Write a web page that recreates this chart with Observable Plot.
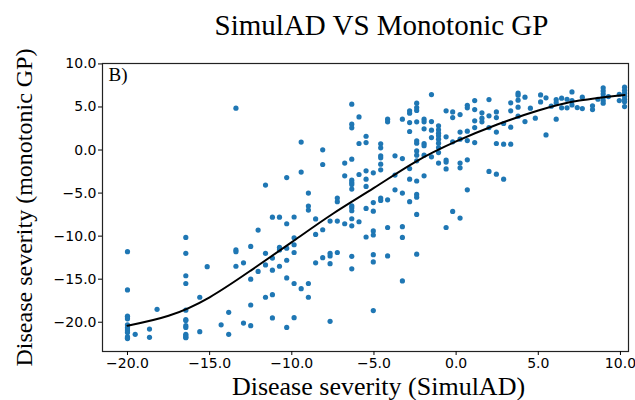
<!DOCTYPE html>
<html><head><meta charset="utf-8">
<script src="https://cdn.jsdelivr.net/npm/d3@7"></script>
<script src="https://cdn.jsdelivr.net/npm/@observablehq/plot@0.6"></script>
<style>body{margin:0;background:#fff}</style>
</head><body><div id="chart"></div>
<script>
// SimulAD severity columns and the monotonic-GP severities observed at each column
const simulADColumns = [-20,-19.53,-18.66,-18.2,-16.45,-15.6,-15.15,-14.3,-13.84,-13.4,-12.94,-12.5,-12.05,-11.6,-11.18,-10.75,-10.31,-9.86,-9.43,-8.99,-8.55,-8.12,-7.67,-7.23,-6.78,-6.35,-5.91,-5.48,-5.04,-4.59,-4.17,-3.72,-3.27,-2.83,-2.4,-1.95,-1.5,-1.07,-0.61,-0.21,0.24,0.68,1.13,1.57,2.0,2.45,2.89,3.32,3.77,4.19,4.52,4.82,5.14,5.47,5.79,6.09,6.42,6.75,7.05,7.37,7.68,8.3,8.63,8.95,9.27,9.93,10.25];
const monotonicGPByColumn = [
  [-11.8,-16.25,-19.3,-19.4,-19.6,-20.3,-20.6,-20.8,-21.0,-21.2,-21.7,-21.8,-21.9],
  [-21.4],
  [-20.8,-21.75],
  [-18.5],
  [-10.15,-12.0,-14.6,-15.5,-18.6,-19.7,-19.8,-20.4,-20.6,-21.4,-21.55,-21.75,-21.8],
  [-17.1,-21.1],
  [-13.55],
  [-20.3],
  [-18.85,-21.4],
  [4.86,-11.6,-11.8,-13.5],
  [-13.1,-20.1],
  [-11.2,-15.0,-18.0,-20.4],
  [-9.3,-14.1],
  [-4.07,-12.0,-13.35,-17.1],
  [-7.8,-12.55,-13.95,-16.8,-19.5],
  [-7.8,-11.3,-11.6,-13.5],
  [-3.2,-8.56,-11.4,-12.8,-14.86,-20.6],
  [-7.78,-10.2,-11.0,-11.9,-15.5,-19.47],
  [0.92,-2.56,-16.1],
  [-5.0,-6.5,-6.97,-15.5,-17.1],
  [-8.0,-9.8,-13.1],
  [0.02,-1.68,-9.26,-12.5],
  [-8.25,-12.0,-12.3,-13.2,-19.9],
  [-5.58,-6.0,-8.25,-11.9],
  [-1.52,-3.0,-8.56],
  [5.32,3.0,2.58,-1.06,-3.5,-3.77,-4.0,-4.54,-6.47,-6.7,-7.05,-7.98,-8.8,-12.35,-13.8],
  [3.85,0.76,-2.84,-8.33],
  [1.6,0.87,-2.41,-3.38,-4.23,-6.78,-10.1],
  [-2.65,-6.1,-7.1,-9.4,-9.87,-12.15,-13.0,-18.65],
  [0.72,0.26,-0.67,-0.9,-1.64,-2.3,-5.58,-5.85],
  [3.58,3.27,-5.78,-9.0,-12.3],
  [-0.67,-2.91,-4.62],
  [3.58,-0.99,-5.0,-8.9,-10.15,-15.2],
  [4.55,4.28,3.19,2.15,-2.15,-3.38,-6.0],
  [5.44,4.93,4.6,3.27,1.07,0.8,-0.1,-0.6,-1.25,-3.6,-5.16,-5.47,-7.48,-12.1],
  [3.58,3.27,2.46,0.76,0.5,-0.6,-3.0],
  [6.44,3.31,2.31,1.45,-0.79],
  [2.81,2.35,1.96,1.65,1.26,0.8,0.29,-0.29,-1.52],
  [4.55,1.53,-1.17,-1.4,-2.2,-9.0],
  [4.43,3.77,0.95,-7.13],
  [4.12,2.08,1.26,-1.52,-2.07,-7.9],
  [5.2,4.9,2.19,1.1,-1.14,-4.62],
  [5.74,4.7,3.39,2.61,0.87],
  [4.32,3.7,3.27],
  [5.86,3.97,2.61,-2.49],
  [4.43,3.77,2.08,0.76,-2.8],
  [3.08,0.68,-3.38],
  [5.48,4.55,2.65,0.68],
  [6.6,6.37,5.79,4.98,3.93],
  [6.14,3.31],
  [4.86],
  [3.7],
  [6.4,5.59],
  [6.06,1.76],
  [5.09],
  [5.86,5.5,3.58],
  [6.02,4.9],
  [5.9,4.9],
  [6.75,5.74,5.24],
  [4.93],
  [6.14,4.82],
  [5.13,4.7],
  [5.9],
  [7.22,6.87,6.5,6.14,5.75,5.44],
  [6.21],
  [6.48,5.74],
  [7.3,6.94,6.6,6.25,5.9,5.6,5.05]
];
// fitted monotonic curve
const curveSimulAD = [-20,-17.5,-15,-12.5,-10,-7.5,-5,-2.5,0,2.5,5,7.5,10.25];
const curveGP = [-20.4,-19.25,-17.1,-14.0,-10.7,-7.4,-4.4,-1.4,1.0,2.96,4.59,5.74,6.4];

const xTicks = [-20,-15,-10,-5,0,5,10];
const yTicks = [-20,-15,-10,-5,0,5,10];
const titleText = "SimulAD VS Monotonic GP";
const xLabel = "Disease severity (SimulAD)";
const yLabel = "Disease severity (monotonic GP)";
const panelLabel = "B)";

const points = simulADColumns.flatMap((x, i) => monotonicGPByColumn[i].map(y => ({x, y})));
const curve = curveSimulAD.map((x, i) => ({x, y: curveGP[i]}));
const serif = "Liberation Serif, Times New Roman, serif";

const chart = Plot.plot({
  width: 635, height: 400,
  marginLeft: 102, marginRight: 7, marginTop: 63, marginBottom: 49,
  style: {fontFamily: "DejaVu Sans", fontSize: "14px", color: "black", background: "white"},
  x: {domain: [-21.52, 10.49], ticks: xTicks, label: null},
  y: {domain: [-23.4, 10.05], ticks: yTicks, label: null},
  marks: [
    Plot.dot(points, {x: "x", y: "y", r: 2.6, fill: "#1f77b4", stroke: null}),
    Plot.line(curve, {x: "x", y: "y", curve: "natural", stroke: "black", strokeWidth: 2}),
    Plot.frame({stroke: "#222", strokeWidth: 1.2}),
    Plot.axisX({ticks: xTicks, tickFormat: d3.format(".1f"), tickSize: 4, tickPadding: 3, label: null}),
    Plot.axisY({ticks: yTicks, tickFormat: d3.format(".1f"), tickSize: 4, tickPadding: 2, label: null}),
    Plot.text([panelLabel], {text: d => d, frameAnchor: "top-left", dx: 6, dy: 4, textAnchor: "start", lineAnchor: "top", fontFamily: serif, fontSize: 19}),
    Plot.text([titleText], {text: d => d, frameAnchor: "top", dx: 16, dy: -38, textAnchor: "middle", lineAnchor: "middle", fontFamily: serif, fontSize: 29}),
    Plot.text([xLabel], {text: d => d, frameAnchor: "bottom", dx: 13, dy: 35, textAnchor: "middle", lineAnchor: "middle", fontFamily: serif, fontSize: 26}),
    Plot.text([yLabel], {text: d => d, frameAnchor: "left", dx: -78, dy: 0, rotate: -90, textAnchor: "middle", lineAnchor: "middle", fontFamily: serif, fontSize: 24})
  ]
});
document.getElementById("chart").appendChild(chart);
</script>
</body></html>
